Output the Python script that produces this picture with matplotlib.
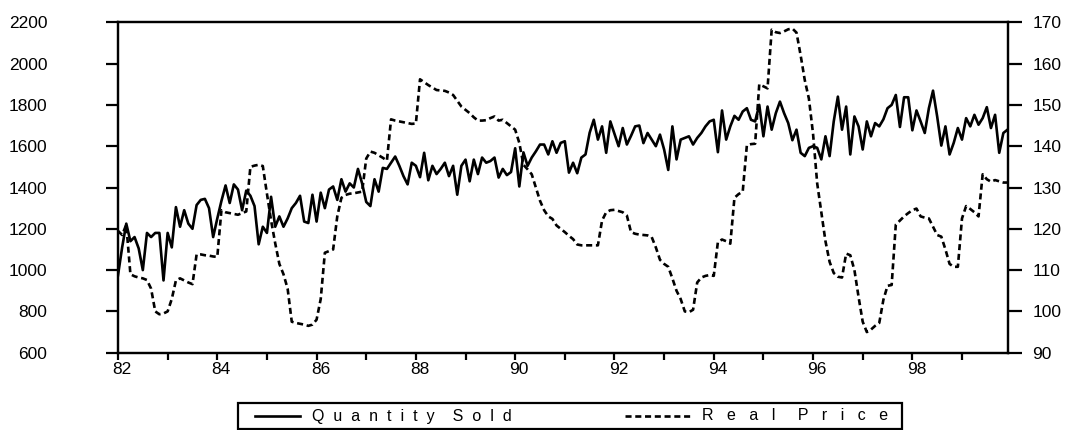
import numpy as np
import matplotlib
matplotlib.use("Agg")
import matplotlib.pyplot as plt
from matplotlib.lines import Line2D
from matplotlib.patches import Rectangle
import matplotlib.transforms as mtransforms

plt.rcParams['font.family'] = ['Liberation Sans', 'DejaVu Sans']

start_year = 1982
quantity_sold = [
    975, 1110, 1225, 1140, 1160, 1105, 1000, 1180, 1160, 1180, 1180, 950,
    1180, 1110, 1305, 1210, 1290, 1225, 1200, 1315, 1340, 1345, 1300, 1160,
    1250, 1335, 1410, 1325, 1415, 1390, 1290, 1385, 1360, 1310, 1125, 1210,
    1180, 1355, 1210, 1260, 1210, 1250, 1300, 1325, 1360, 1235, 1228, 1365,
    1235, 1375, 1300, 1390, 1405, 1340, 1440, 1380, 1420, 1400, 1490, 1420,
    1330, 1310, 1440, 1380, 1495, 1490, 1520, 1550, 1505, 1455, 1415, 1520,
    1505, 1450, 1568, 1435, 1505, 1465, 1490, 1520, 1455, 1505, 1365, 1505,
    1535, 1430, 1535, 1465, 1545, 1520, 1528, 1545, 1448, 1490, 1460, 1475,
    1590, 1405, 1570, 1505, 1545, 1575, 1608, 1608, 1560, 1624, 1568, 1616,
    1624, 1472, 1520, 1469, 1545, 1560, 1665, 1728, 1632, 1696, 1568, 1720,
    1660, 1600, 1688, 1608, 1650, 1696, 1700, 1615, 1664, 1632, 1600, 1656,
    1584, 1485, 1696, 1536, 1632, 1640, 1648, 1608, 1640, 1664, 1696, 1720,
    1728, 1571, 1773, 1632, 1696, 1747, 1728, 1768, 1784, 1728, 1720, 1800,
    1648, 1792, 1680, 1760, 1816, 1760, 1712, 1629, 1680, 1568, 1552, 1592,
    1600, 1592, 1536, 1648, 1552, 1720, 1840, 1680, 1792, 1560, 1744, 1696,
    1584, 1720, 1648, 1712, 1696, 1730, 1784, 1800, 1848, 1693, 1837, 1837,
    1677, 1773, 1720, 1664, 1784, 1869, 1744, 1603, 1696, 1560, 1616, 1688,
    1632, 1736, 1696, 1752, 1704, 1736, 1789, 1688, 1752, 1568, 1664, 1680,
]
real_price = [
    119.5, 118.5, 121.0, 109.0, 108.5, 108.2, 108.0, 107.6, 105.5, 100.0, 99.3, 99.5,
    100.0, 103.0, 107.5, 108.0, 107.5, 107.0, 106.6, 113.8, 113.8, 113.6, 113.5, 113.3,
    113.2, 124.5, 124.0, 123.8, 123.6, 123.4, 123.8, 124.2, 135.0, 135.3, 135.5, 135.2,
    128.5, 122.0, 116.5, 111.5, 109.0, 105.5, 97.5, 97.2, 97.0, 96.8, 96.5, 96.8,
    98.0, 103.0, 114.2, 114.6, 115.0, 123.0, 127.5, 128.2, 128.5, 128.6, 128.8, 129.0,
    137.0, 138.7, 138.4, 137.8, 137.2, 136.5, 146.5, 146.2, 146.0, 145.8, 145.6, 145.4,
    145.5, 156.2, 155.5, 154.8, 154.2, 153.6, 153.5, 153.4, 153.0, 152.4, 151.0, 149.6,
    148.8, 148.0, 147.0, 146.2, 146.2, 146.3, 146.8, 147.2, 146.2, 146.4, 145.6, 144.8,
    144.0, 140.8, 135.5, 134.4, 133.2, 130.0, 126.8, 124.5, 123.0, 122.4, 120.8, 120.0,
    119.2, 118.3, 117.5, 116.2, 116.0, 116.0, 116.0, 116.0, 116.0, 122.0, 124.0, 124.5,
    124.6, 124.3, 124.0, 123.2, 119.2, 118.8, 118.6, 118.5, 118.4, 118.0, 115.5, 112.5,
    111.5, 110.8, 108.0, 105.0, 103.0, 100.0, 99.8, 100.4, 107.0, 108.2, 108.6, 108.8,
    108.6, 116.8, 117.4, 117.0, 116.4, 127.5, 128.4, 129.0, 140.2, 140.5, 140.6, 155.0,
    154.5, 154.0, 168.2, 167.6, 167.4, 167.8, 168.3, 168.5, 167.5, 162.0, 156.0, 151.5,
    143.0, 131.0, 124.0, 117.0, 112.0, 109.3, 108.4, 108.2, 114.0, 113.6, 110.0, 103.5,
    97.5, 95.0, 95.6, 96.5, 97.2, 102.8, 106.2, 106.4, 121.0, 122.0, 123.0, 123.8,
    124.5, 124.9, 123.0, 122.7, 122.5, 120.5, 118.5, 118.1, 115.0, 111.5, 110.8, 110.8,
    122.5, 125.5, 124.8, 124.0, 123.0, 133.2, 132.0, 131.4, 131.8, 131.5, 131.2, 131.2,
]
left_ticks = [600, 800, 1000, 1200, 1400, 1600, 1800, 2000, 2200]
right_ticks = [90, 100, 110, 120, 130, 140, 150, 160, 170]
year_ticks = list(range(1982, 2000))
year_labels = [str(y)[2:] if y % 2 == 0 else "" for y in year_ticks]
series_names = ["Q  u  a  n  t  i  t  y    S  o  l  d",
                "R   e   a   l     P   r   i   c   e"]

t = start_year + np.arange(len(quantity_sold)) / 12.0

W, H = 1070, 430
fig = plt.figure(figsize=(W / 100, H / 100), dpi=100)
ax = fig.add_axes([118 / W, 1 - 352.7 / H, (1007.5 - 118) / W, (352.7 - 22.3) / H])
ax2 = ax.twinx()

lw = 1.9
dash = (2.3, 1.4)
ax.plot(t, quantity_sold, color="black", lw=lw)
ax2.plot(t, real_price, color="black", lw=lw, dashes=dash)

ax.set_xlim(t[0], t[-1])
ax.set_ylim(600, 2200)
ax2.set_ylim(90, 170)
ax.set_yticks(left_ticks)
ax.set_yticklabels([str(v) for v in left_ticks])
ax2.set_yticks(right_ticks)
ax2.set_yticklabels([str(v) for v in right_ticks])
ax.set_xticks(year_ticks)
ax.set_xticklabels(year_labels)

fs = 12.5
ax.tick_params(axis="y", direction="out", length=9, width=1.6, pad=42, labelsize=fs)
ax2.tick_params(axis="y", direction="out", length=10, width=1.6, pad=8, labelsize=fs)
ax.tick_params(axis="x", direction="out", length=5, width=1.6, pad=2, labelsize=fs)

offset = mtransforms.ScaledTranslation(4 / 100, 0, fig.dpi_scale_trans)
for lab in ax.get_xticklabels():
    lab.set_transform(lab.get_transform() + offset)

for a in (ax, ax2):
    for s in a.spines.values():
        s.set_linewidth(1.6)

# legend box, drawn in figure pixel coordinates (y measured from the top)
def fx(px):
    return px / W

def fy(py):
    return 1 - py / H

fig.add_artist(Rectangle((fx(238), fy(429)), fx(902) - fx(238), fy(403) - fy(429),
                         transform=fig.transFigure, fill=False, edgecolor="black", lw=1.6))
ly = fy(416)
fig.add_artist(Line2D([fx(255), fx(300)], [ly, ly], transform=fig.transFigure,
                      color="black", lw=lw))
fig.add_artist(Line2D([fx(625), fx(690)], [ly, ly], transform=fig.transFigure,
                      color="black", lw=lw, dashes=dash))
fig.text(fx(312), ly, series_names[0], ha="left", va="center", fontsize=11.5)
fig.text(fx(702), ly, series_names[1], ha="left", va="center", fontsize=11.5)

fig.savefig("out.png", dpi=100)
